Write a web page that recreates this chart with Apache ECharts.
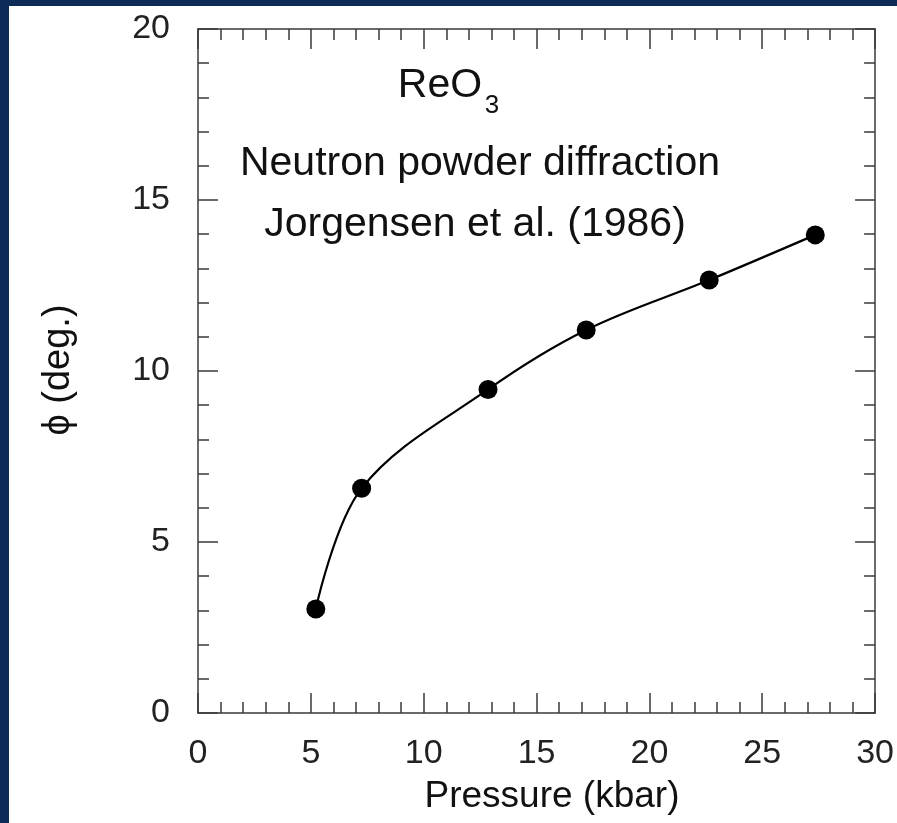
<!DOCTYPE html>
<html>
<head>
<meta charset="utf-8">
<script src="https://cdn.jsdelivr.net/npm/echarts@6/dist/echarts.min.js"></script>
<style>
html,body{margin:0;padding:0;background:#fff;}
#chart{width:897px;height:823px;}
</style>
</head>
<body>
<div id="chart"></div>
<script>
// Data
const pressure = [5.22, 7.25, 12.85, 17.2, 22.65, 27.35];
const phi = [3.04, 6.57, 9.46, 11.2, 12.66, 13.98];
const xTicks = [0, 5, 10, 15, 20, 25, 30];
const yTicks = [0, 5, 10, 15, 20];
const annotation = ["ReO", "3", "Neutron powder diffraction", "Jorgensen et al. (1986)"];
const xName = "Pressure (kbar)";
const yName = "\u03D5 (deg.)";

const FONT = "'Liberation Sans', Arial, Helvetica, 'DejaVu Sans', sans-serif";
const AX = '#3a3a3a';
const chart = echarts.init(document.getElementById('chart'));

function axisCommon(showLabel, min, max, interval) {
  return {
    type: 'value', min: min, max: max, interval: interval,
    axisLine: {show: true, onZero: false, lineStyle: {color: AX, width: 1.5}},
    axisTick: {show: true, inside: true, length: 20, lineStyle: {color: AX, width: 1.5}},
    minorTick: {show: true, splitNumber: 5, length: 11, lineStyle: {color: AX, width: 1.5}},
    splitLine: {show: false},
    minorSplitLine: {show: false},
    axisLabel: {show: showLabel, color: '#222', fontFamily: FONT, fontSize: 34}
  };
}

const xBottom = Object.assign(axisCommon(true, xTicks[0], xTicks[xTicks.length-1], 5), {position: 'bottom'});
xBottom.axisLabel.margin = 24;
const xTop = Object.assign(axisCommon(false, xTicks[0], xTicks[xTicks.length-1], 5), {position: 'top'});
const yLeft = Object.assign(axisCommon(true, yTicks[0], yTicks[yTicks.length-1], 5), {position: 'left'});
yLeft.axisLabel.margin = 28;
const yRight = Object.assign(axisCommon(false, yTicks[0], yTicks[yTicks.length-1], 5), {position: 'right'});

chart.setOption({
  backgroundColor: '#ffffff',
  animation: false,
  grid: {left: 198, top: 29, right: 21, bottom: 110, containLabel: false},
  xAxis: [xBottom, xTop],
  yAxis: [yLeft, yRight],
  series: [{
    type: 'line',
    xAxisIndex: 0, yAxisIndex: 0,
    data: pressure.map((p, i) => [p, phi[i]]),
    smooth: 0.35,
    symbol: 'circle',
    symbolSize: 19,
    showSymbol: true,
    lineStyle: {color: '#000', width: 2.2},
    itemStyle: {color: '#000'}
  }],
  graphic: [
    {type: 'rect', left: 0, top: 0, shape: {width: 9, height: 823}, style: {fill: '#0c2b56'}, z: 100},
    {type: 'rect', left: 0, top: 0, shape: {width: 897, height: 6}, style: {fill: '#0c2b56'}, z: 100},
    {type: 'text', x: 440, y: 86, style: {text: annotation[0], font: '41px ' + FONT, fill: '#111', textAlign: 'center', textVerticalAlign: 'middle'}},
    {type: 'text', x: 492, y: 106, style: {text: annotation[1], font: '26px ' + FONT, fill: '#111', textAlign: 'center', textVerticalAlign: 'middle'}},
    {type: 'text', x: 480, y: 164, style: {text: annotation[2], font: '41px ' + FONT, fill: '#111', textAlign: 'center', textVerticalAlign: 'middle'}},
    {type: 'text', x: 475, y: 225, style: {text: annotation[3], font: '41px ' + FONT, fill: '#111', textAlign: 'center', textVerticalAlign: 'middle'}},
    {type: 'text', x: 552, y: 797, style: {text: xName, font: '37px ' + FONT, fill: '#111', textAlign: 'center', textVerticalAlign: 'middle'}},
    {type: 'text', x: 59, y: 370, rotation: Math.PI/2, style: {text: yName, font: '38px ' + FONT, fill: '#111', textAlign: 'center', textVerticalAlign: 'middle'}}
  ]
});
</script>
</body>
</html>
